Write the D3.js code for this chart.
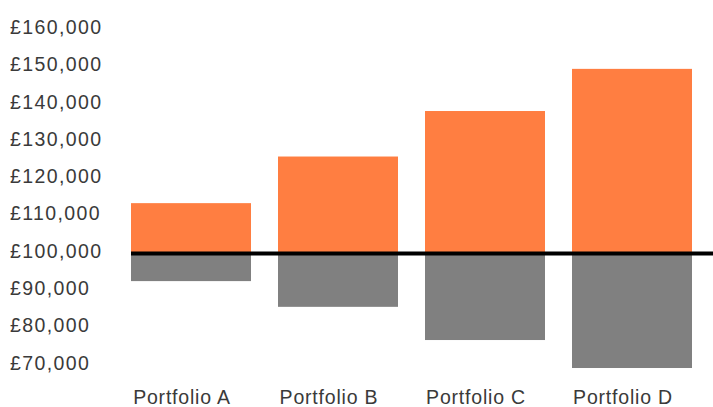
<!DOCTYPE html>
<html>
<head>
<meta charset="utf-8">
<script src="https://cdn.jsdelivr.net/npm/d3@7"></script>
<style>
  html, body { margin: 0; padding: 0; background: #fff; }
  svg { display: block; }
  text { font-family: "Liberation Sans", Arial, Helvetica, sans-serif; fill: #3a3a3a; }
</style>
</head>
<body>
<svg id="chart" width="713" height="407"></svg>
<script>
const categories = ["Portfolio A", "Portfolio B", "Portfolio C", "Portfolio D"];
const upperValues = [113500, 126000, 138200, 149500];
const lowerValues = [92600, 85700, 76800, 69300];
const baseValue = 100000;
const tickValues = [70000, 80000, 90000, 100000, 110000, 120000, 130000, 140000, 150000, 160000];

const svg = d3.select("#chart");
const W = 713, H = 407;

const x = d3.scaleBand()
  .domain(categories)
  .range([116.3, 706.7])
  .paddingInner(0.1837)
  .paddingOuter(0.1);

const y = d3.scaleLinear()
  .domain([70000, 160000])
  .range([365.4, 29.7]);

const fmt = v => "£" + d3.format(",")(v);

// Y axis labels
const yAxis = d3.axisLeft(y).tickValues(tickValues).tickFormat(fmt).tickSize(0);
const yg = svg.append("g").call(yAxis);
yg.select(".domain").remove();
yg.selectAll("text")
  .attr("text-anchor", "start")
  .attr("x", 10)
  .attr("dy", "0.19em")
  .style("font-size", "19.5px")
  .style("letter-spacing", "1.4px")
  .style("fill", "#3a3a3a")
  .style("font-family", "'Liberation Sans', Arial, sans-serif");

// Bars above baseline
svg.append("g").selectAll("rect.up")
  .data(categories)
  .join("rect")
  .attr("class", "up")
  .attr("x", d => x(d))
  .attr("width", x.bandwidth())
  .attr("y", (d, i) => y(upperValues[i]))
  .attr("height", (d, i) => y(baseValue) - y(upperValues[i]))
  .attr("fill", "#FF7E41");

// Bars below baseline
svg.append("g").selectAll("rect.down")
  .data(categories)
  .join("rect")
  .attr("class", "down")
  .attr("x", d => x(d))
  .attr("width", x.bandwidth())
  .attr("y", y(baseValue))
  .attr("height", (d, i) => y(lowerValues[i]) - y(baseValue))
  .attr("fill", "#808080");

// Baseline
svg.append("line")
  .attr("x1", x(categories[0]))
  .attr("x2", W)
  .attr("y1", y(baseValue))
  .attr("y2", y(baseValue))
  .attr("stroke", "#000")
  .attr("stroke-width", 4);

// X axis labels
const xAxis = d3.axisBottom(x).tickSize(0);
const xg = svg.append("g").attr("transform", "translate(0,404)").call(xAxis);
xg.select(".domain").remove();
xg.selectAll("text")
  .attr("y", 0)
  .attr("dy", 0)
  .attr("dx", -9)
  .attr("text-anchor", "middle")
  .style("font-size", "19.5px")
  .style("letter-spacing", "0.8px")
  .style("fill", "#3a3a3a")
  .style("font-family", "'Liberation Sans', Arial, sans-serif");
</script>
</body>
</html>
